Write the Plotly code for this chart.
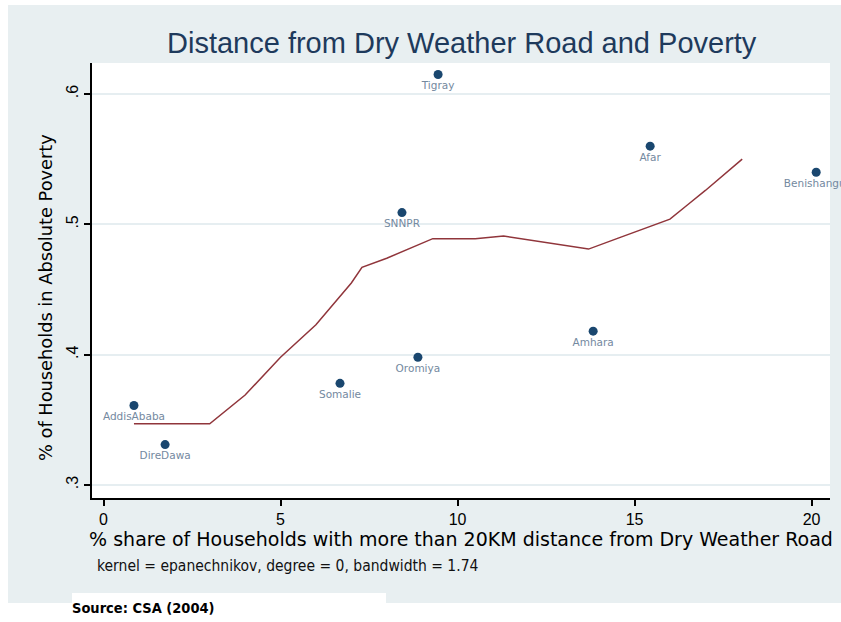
import plotly.graph_objects as go

# Regional observations: share of households >20km from a dry-weather road vs. poverty
regions = ["Tigray", "Afar", "Benishangul", "SNNPR", "Amhara", "Oromiya",
           "Somalie", "AddisAbaba", "DireDawa"]
dist_share = [9.45, 15.44, 20.13, 8.43, 13.83, 8.88, 6.68, 0.86, 1.74]
poverty = [0.615, 0.560, 0.540, 0.509, 0.418, 0.398, 0.378, 0.361, 0.331]

# Kernel-weighted local polynomial fit (epanechnikov, degree 0, bw 1.74)
fit_x = [0.86, 3.0, 4.0, 5.0, 6.0, 7.0, 7.3, 8.0, 9.3, 10.5, 11.3, 12.5,
         13.7, 14.5, 15.0, 16.0, 16.5, 17.0, 18.04]
fit_y = [0.347, 0.347, 0.369, 0.398, 0.423, 0.455, 0.467, 0.474, 0.489,
         0.489, 0.491, 0.486, 0.481, 0.489, 0.494, 0.504, 0.515, 0.526, 0.550]

y_ticks = [0.3, 0.4, 0.5, 0.6]
y_tick_text = [".3", ".4", ".5", ".6"]
x_ticks = [0, 5, 10, 15, 20]

W, H = 841, 622
L, R, T, B = 92, 11, 63, 124
pw, ph = W - L - R, H - T - B


def px(x):
    return (x - L) / pw


def py(y):
    return (H - B - y) / ph


GREY = "#e8eff1"
NAVY = "#1a476f"
SANS = "Liberation Sans, Arial"
WIDE = "DejaVu Sans, Verdana"
NARROW = "DejaVu Sans Condensed, Liberation Sans Narrow, Liberation Sans"

fig = go.Figure()

fig.add_trace(go.Scatter(
    x=fit_x, y=fit_y, mode="lines",
    line=dict(color="#90353b", width=1.5),
    hoverinfo="skip", showlegend=False,
))

fig.add_trace(go.Scatter(
    x=dist_share, y=poverty, mode="markers+text",
    text=regions, textposition="bottom center",
    textfont=dict(family=WIDE, size=10.5, color="#7489a0"),
    marker=dict(color=NAVY, size=9),
    cliponaxis=False, showlegend=False,
))

shapes = [
    # outer graph region
    dict(type="rect", xref="paper", yref="paper", layer="below",
         x0=px(8), x1=px(841), y0=py(603), y1=py(5),
         fillcolor=GREY, line=dict(width=0)),
    # plot region
    dict(type="rect", xref="paper", yref="paper", layer="below",
         x0=0, x1=px(830), y0=0, y1=1,
         fillcolor="white", line=dict(width=0)),
    # note box behind the source line
    dict(type="rect", xref="paper", yref="paper", layer="below",
         x0=px(72), x1=px(386), y0=py(603), y1=py(593),
         fillcolor="white", line=dict(width=0)),
]

annotations = [
    dict(text="Distance from Dry Weather Road and Poverty",
         xref="paper", yref="paper", x=px(462), y=py(43),
         xanchor="center", yanchor="middle", showarrow=False,
         font=dict(family=SANS, size=29, color="#1e3a5c")),
    dict(text="% of Households in Absolute Poverty",
         xref="paper", yref="paper", x=px(45), y=py(298),
         xanchor="center", yanchor="middle", textangle=-90, showarrow=False,
         font=dict(family=WIDE, size=17.8, color="#000000")),
    dict(text="kernel = epanechnikov, degree = 0, bandwidth = 1.74",
         xref="paper", yref="paper", x=px(95), y=py(566),
         xanchor="left", yanchor="middle", showarrow=False,
         font=dict(family=NARROW, size=15.5, color="#111111")),
    dict(text="<b>Source: CSA (2004)</b>",
         xref="paper", yref="paper", x=px(70), y=py(608),
         xanchor="left", yanchor="middle", showarrow=False,
         font=dict(family=NARROW, size=14.5, color="#000000")),
]

fig.update_layout(
    width=W, height=H,
    margin=dict(l=L, r=R, t=T, b=B, pad=0),
    paper_bgcolor="white",
    plot_bgcolor="rgba(0,0,0,0)",
    shapes=shapes,
    annotations=annotations,
    font=dict(family=SANS, color="#000000"),
)

fig.update_xaxes(
    range=[-0.325, 20.52],
    tickvals=x_ticks, ticks="outside", ticklen=6, tickcolor="#000000", tickwidth=1.5,
    showline=True, linecolor="#000000", linewidth=1.5,
    showgrid=False, zeroline=False,
    tickfont=dict(size=16),
    title=dict(text="% share of Households with more than 20KM distance from Dry Weather Road",
               font=dict(family=WIDE, size=19), standoff=5),
)

fig.update_yaxes(
    range=[0.29, 0.6238],
    tickvals=y_ticks, ticktext=y_tick_text, tickangle=-90,
    ticks="outside", ticklen=6, tickcolor="#000000", tickwidth=1.5,
    showline=True, linecolor="#000000", linewidth=1.5,
    showgrid=True, gridcolor="#e6eef1", gridwidth=1.5,
    zeroline=False,
    tickfont=dict(size=16),
)

fig.write_html("out.html")
